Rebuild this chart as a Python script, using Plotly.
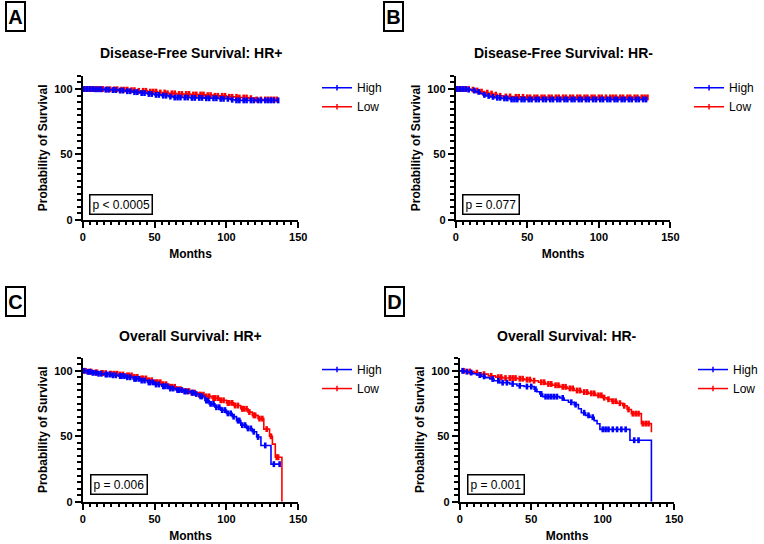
import numpy as np
import plotly.graph_objects as go

FONT = "Liberation Sans, Arial, sans-serif"
BLUE = "#0000FF"
RED = "#FF0000"
W, H = 764, 544

# ---------------- data (months, % survival) ----------------
# Panel A: Disease-Free Survival HR+
a_high_t = [0, 8, 15, 20, 25, 30, 35, 40, 45, 50, 55, 60, 63, 75, 85, 95, 103, 106, 136]
a_high_s = [100, 99.8, 99.5, 99.2, 98.8, 98.3, 97.6, 96.9, 96.2, 95.5, 94.9, 94.2, 93.5, 93.2, 92.9, 92.5, 91.8, 91.3, 91.3]
a_low_t = [0, 15, 25, 32, 38, 45, 52, 58, 65, 75, 85, 92, 100, 108, 115, 120, 136]
a_low_s = [100, 99.8, 99.5, 99.1, 98.6, 98.0, 97.3, 96.7, 96.2, 95.8, 95.3, 94.8, 94.0, 93.5, 93.0, 92.0, 92.0]
a_high_c = [1, 3, 5, 7, 9, 11, 13, 16, 18, 21, 23, 26, 28, 31, 33, 36, 38, 41, 43, 46, 48, 51, 53, 56, 58,
            61, 64, 66, 68, 71, 73, 76, 78, 81, 83, 86, 88, 91, 93, 96, 98, 101, 104, 107, 109, 112, 114,
            117, 119, 122, 124, 127, 129, 131, 133, 136]
a_low_c = [2, 4, 6, 8, 10, 12, 14, 17, 19, 22, 24, 27, 29, 31, 34, 36, 39, 42, 44, 47, 49, 51, 54, 57, 59,
           62, 64, 67, 69, 72, 74, 77, 79, 82, 84, 87, 89, 92, 94, 97, 99, 102, 104, 107, 109, 112, 114,
           117, 121, 124, 127, 129, 131, 133, 135]

# Panel B: Disease-Free Survival HR-
b_high_t = [0, 8, 11, 14, 17, 19, 21, 24, 27, 32, 38, 134]
b_high_s = [100, 99.5, 98.8, 97.8, 96.6, 95.5, 94.7, 94.0, 93.3, 92.8, 92.0, 92.0]
b_low_t = [0, 10, 14, 17, 20, 23, 26, 29, 33, 40, 48, 134]
b_low_s = [100, 99.5, 98.8, 98.0, 97.2, 96.5, 95.7, 94.8, 94.3, 94.0, 93.6, 93.6]
b_high_c = [1, 3, 5, 7, 9, 13, 16, 20, 23, 26, 29, 31, 34, 36, 39, 41, 43, 46, 48, 51, 53, 56, 58, 61, 63,
            66, 68, 71, 73, 76, 78, 81, 83, 86, 88, 91, 93, 96, 98, 101, 103, 106, 108, 111, 113, 116,
            118, 121, 123, 126, 128, 131, 133]
b_low_c = [2, 4, 6, 9, 12, 15, 18, 22, 25, 28, 31, 35, 38, 42, 44, 47, 50, 52, 55, 57, 60, 62, 65, 67, 70,
           72, 75, 77, 80, 82, 85, 87, 90, 92, 95, 97, 100, 102, 105, 108, 110, 112, 115, 117, 120, 122,
           125, 127, 130, 132, 134]

# Panel C: Overall Survival HR+
c_high_t = [0, 3, 6, 10, 15, 20, 25, 30, 35, 40, 45, 50, 55, 60, 65, 70, 75, 78, 81, 85, 88, 92, 96,
            100, 104, 107, 110, 114, 118, 121, 124, 131, 137]
c_high_s = [100, 99.3, 98.5, 97.8, 97.2, 96.6, 96.0, 95.1, 93.9, 92.6, 91.2, 89.6, 88.2, 86.5, 85.3,
            84.2, 83.3, 82.3, 80.5, 77.3, 74.8, 72.2, 70.0, 67.5, 65.0, 62.0, 58.5, 56.0, 53.5, 49.5,
            43.0, 28.7, 28.7]
c_low_t = [0, 4, 8, 12, 18, 25, 30, 35, 40, 45, 50, 55, 60, 65, 70, 75, 80, 85, 90, 95, 100, 105, 110,
           115, 118, 122, 126, 130, 132, 134, 138.6]
c_low_s = [100, 99.4, 98.8, 98.3, 97.8, 97.2, 96.5, 95.4, 94.2, 92.8, 91.3, 89.8, 87.8, 86.0, 84.5,
           83.3, 81.8, 80.5, 79.2, 77.5, 75.5, 73.5, 71.0, 68.5, 66.0, 63.5, 55.5, 50.0, 44.0, 34.0, 0]
c_high_c = [1, 3.5, 5, 7, 9, 11, 13, 16, 17, 19, 21, 23, 26, 27, 29, 31, 33, 36, 37, 39, 41, 43, 46, 47,
            49, 51, 53, 56, 57, 59, 61, 63, 66, 67, 69, 71, 73, 76, 77, 79, 82, 83, 86, 87, 89, 91, 93,
            95, 97, 99, 101, 103, 105, 108, 109, 111, 113, 115, 117, 119, 122, 127, 133, 137]
c_low_c = [2, 5, 6, 9, 10, 13, 14, 16, 19, 20, 22, 24, 26, 28, 31, 32, 34, 36, 38, 41, 42, 44, 46, 48,
           51, 52, 54, 56, 58, 61, 62, 64, 66, 68, 71, 72, 74, 76, 78, 81, 82, 84, 86, 88, 91, 92, 94,
           96, 98, 101, 102, 104, 106, 108, 111, 112, 114, 116, 119, 120, 123, 125, 128, 131, 135, 136]

# Panel D: Overall Survival HR-
d_high_t = [0, 3, 6, 9, 12, 15, 18, 21, 24, 28, 35, 40, 45, 52, 54, 56, 58, 70, 73, 76, 80, 83, 85,
            88, 91, 94, 96, 98, 119, 134]
d_high_s = [100, 99.4, 98.7, 97.8, 96.8, 95.8, 94.8, 93.8, 92.5, 91.0, 90.0, 88.6, 88.0, 86.0, 84.0,
            82.3, 80.3, 79.3, 77.5, 76.0, 74.2, 71.0, 68.0, 66.0, 64.6, 62.0, 59.6, 55.3, 47.0, 0]
d_low_t = [0, 5, 10, 15, 20, 25, 30, 40, 45, 50, 55, 60, 65, 70, 75, 80, 85, 90, 95, 100, 103, 106,
           110, 114, 117, 120, 127, 134]
d_low_s = [100, 99.5, 98.6, 97.5, 96.2, 95.2, 94.5, 94.0, 93.3, 92.5, 91.3, 90.0, 89.0, 87.8, 86.6,
           85.0, 83.8, 82.8, 81.3, 79.5, 78.3, 76.8, 75.3, 73.3, 70.5, 67.3, 59.7, 53.0]
d_high_c = [2, 5, 8, 14, 17, 23, 27, 30, 33, 37, 42, 47, 50, 53, 57, 60, 62, 64, 66, 68, 72, 78, 81, 87,
            90, 93, 100, 102, 104, 107, 110, 113, 116, 122, 125]
d_low_c = [3, 7, 12, 17, 22, 27, 29, 32, 35, 37, 39, 42, 44, 47, 49, 52, 57, 59, 62, 64, 67, 69, 72, 74,
           77, 79, 82, 84, 87, 89, 92, 94, 97, 99, 101, 104, 107, 109, 112, 115, 118, 121, 123, 125,
           128, 130, 132]

titles = ["Disease-Free Survival: HR+", "Disease-Free Survival: HR-",
          "Overall Survival: HR+", "Overall Survival: HR-"]
letters = ["A", "B", "C", "D"]
pvalues = ["p &lt; 0.0005", "p = 0.077", "p = 0.006", "p = 0.001"]
series_names = ["High", "Low"]

# ---------------- layout geometry (pixels) ----------------
geom = [
    dict(x0=81, x1=300, ybot=222.3, letter=(2, 1), legend=(319, 74), pbox=(87, 217), title_y=54),
    dict(x0=460, x1=678, ybot=222.3, letter=(386, 1), legend=(697, 74), pbox=(466, 217), title_y=54),
    dict(x0=81, x1=300, ybot=507.3, letter=(2, 289), legend=(319, 359), pbox=(88, 501), title_y=340),
    dict(x0=464, x1=682, ybot=507.3, letter=(387, 289), legend=(701, 359), pbox=(471, 501), title_y=340),
]
PX_PER_UNIT = 1.323

panels = [
    (a_high_t, a_high_s, a_high_c, a_low_t, a_low_s, a_low_c),
    (b_high_t, b_high_s, b_high_c, b_low_t, b_low_s, b_low_c),
    (c_high_t, c_high_s, c_high_c, c_low_t, c_low_s, c_low_c),
    (d_high_t, d_high_s, d_high_c, d_low_t, d_low_s, d_low_c),
]


def px(x):
    return x / W


def py(y):
    return 1 - y / H


def step_value(times, surv, t):
    idx = int(np.searchsorted(np.asarray(times, dtype=float), t, side="right")) - 1
    idx = max(0, min(idx, len(surv) - 1))
    return surv[idx]


fig = go.Figure()
annotations = []
layout_axes = {}

for i, (data, g) in enumerate(zip(panels, geom), start=1):
    ht, hs, hc, lt, ls, lc = data
    xa = "x" if i == 1 else f"x{i}"
    ya = "y" if i == 1 else f"y{i}"
    leg = "legend" if i == 1 else f"legend{i}"

    # draw Low first, High on top
    for name, color, t, s, c, rank in [("Low", RED, lt, ls, lc, 2), ("High", BLUE, ht, hs, hc, 1)]:
        fig.add_trace(go.Scatter(
            x=t, y=s, mode="lines", line=dict(color=color, width=1.6, shape="hv"),
            xaxis=xa, yaxis=ya, showlegend=False, hoverinfo="skip", cliponaxis=False))
        cy = [step_value(t, s, ct) for ct in c]
        fig.add_trace(go.Scatter(
            x=c, y=cy, mode="markers",
            marker=dict(symbol="line-ns", size=4.2, color=color, line=dict(color=color, width=2.6)),
            xaxis=xa, yaxis=ya, showlegend=False, hoverinfo="skip", cliponaxis=False))
        fig.add_trace(go.Scatter(
            x=[None], y=[None], mode="lines+markers", name=name,
            line=dict(color=color, width=1.5),
            marker=dict(symbol="line-ns", size=4, color=color, line=dict(color=color, width=1.5)),
            xaxis=xa, yaxis=ya, legend=leg, legendrank=rank, showlegend=True))

    ytop = g["ybot"] - 110 * PX_PER_UNIT
    key_x = "xaxis" if i == 1 else f"xaxis{i}"
    key_y = "yaxis" if i == 1 else f"yaxis{i}"
    layout_axes[key_x] = dict(
        domain=[px(g["x0"]), px(g["x1"])], anchor=ya, range=[0, 150],
        tickmode="linear", tick0=0, dtick=50,
        ticks="outside", ticklen=6, tickwidth=1.5, tickcolor="black",
        minor=dict(dtick=5, tick0=0, ticks="outside", ticklen=3.5, tickwidth=1.5, tickcolor="black"),
        showline=True, linewidth=2, linecolor="black", showgrid=False, zeroline=False,
        tickfont=dict(family=FONT, size=11, color="black", weight="bold"),
        title=dict(text="Months", font=dict(family=FONT, size=12, color="black", weight="bold"), standoff=8),
        fixedrange=True)
    layout_axes[key_y] = dict(
        domain=[py(g["ybot"]), py(ytop)], anchor=xa, range=[0, 110],
        tickmode="linear", tick0=0, dtick=50,
        ticks="outside", ticklen=6, tickwidth=1.5, tickcolor="black",
        minor=dict(dtick=5, tick0=0, ticks="outside", ticklen=3.5, tickwidth=1.5, tickcolor="black"),
        showline=True, linewidth=2, linecolor="black", showgrid=False, zeroline=False,
        tickfont=dict(family=FONT, size=11, color="black", weight="bold"),
        title=dict(text="Probability of Survival",
                   font=dict(family=FONT, size=12, color="black", weight="bold"), standoff=4),
        fixedrange=True)

    layout_axes[leg] = dict(
        x=px(g["legend"][0]), y=py(g["legend"][1]), xanchor="left", yanchor="top",
        font=dict(family=FONT, size=12, color="black"), bgcolor="rgba(0,0,0,0)",
        borderwidth=0, itemclick=False, itemdoubleclick=False)

    # subplot title
    annotations.append(dict(
        text=titles[i - 1], x=px((g["x0"] + g["x1"]) / 2), y=py(g["title_y"]),
        xref="paper", yref="paper", xanchor="center", yanchor="middle", showarrow=False,
        font=dict(family=FONT, size=14, color="black", weight="bold")))
    # panel letter box
    annotations.append(dict(
        text=letters[i - 1], x=px(g["letter"][0]), y=py(g["letter"][1]),
        xref="paper", yref="paper", xanchor="left", yanchor="top", showarrow=False,
        font=dict(family=FONT, size=20, color="black", weight="bold"),
        bordercolor="black", borderwidth=2, borderpad=1, width=15, height=25, bgcolor="white"))
    # p-value box
    annotations.append(dict(
        text=pvalues[i - 1], x=px(g["pbox"][0]), y=py(g["pbox"][1]),
        xref="paper", yref="paper", xanchor="left", yanchor="bottom", showarrow=False,
        font=dict(family=FONT, size=12, color="black"),
        bordercolor="black", borderwidth=1.5, borderpad=2, bgcolor="white"))

fig.update_layout(
    width=W, height=H, autosize=False,
    margin=dict(l=0, r=0, t=0, b=0),
    paper_bgcolor="white", plot_bgcolor="white",
    annotations=annotations,
    **layout_axes,
)

fig.write_html("out.html")
